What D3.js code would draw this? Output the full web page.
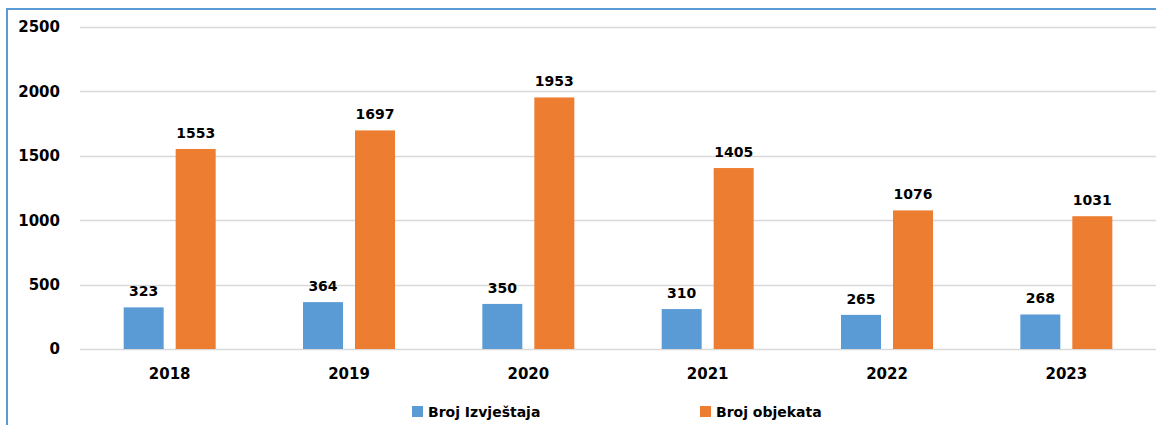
<!doctype html>
<html lang="en">
<head>
  <meta charset="utf-8">
  <script src="https://d3js.org/d3.v7.min.js"></script>
  <style>
    body { margin: 0; background: #fff; }
    text { font-family: "DejaVu Sans", Verdana, sans-serif; font-weight: bold; fill: #000; }
  </style>
</head>
<body>
  <script>
    var years = ["2018", "2019", "2020", "2021", "2022", "2023"];
    var izvjestaji = [323, 364, 350, 310, 265, 268];
    var objekti = [1553, 1697, 1953, 1405, 1076, 1031];
    var seriesNames = ["Broj Izvještaja", "Broj objekata"];
    var colors = ["#5b9bd5", "#ed7d31"];
    var yTicks = [0, 500, 1000, 1500, 2000, 2500];

    var width = 1156, height = 425;

    var svg = d3.select("body").append("svg")
        .attr("width", width)
        .attr("height", height);

    // chart frame (left + top edges visible)
    svg.append("path")
        .attr("d", "M7," + height + " V9 H" + width)
        .attr("fill", "none")
        .attr("stroke", "#5b9bd5")
        .attr("stroke-width", 2);

    var x = d3.scaleBand()
        .domain(years)
        .range([80, 1156]);

    var y = d3.scaleLinear()
        .domain([0, 2500])
        .range([349, 27]);

    // gridlines
    svg.append("g").selectAll("line")
        .data(yTicks)
      .enter().append("line")
        .attr("x1", 80)
        .attr("x2", width)
        .attr("y1", function(d) { return Math.round(y(d)) + 0.5; })
        .attr("y2", function(d) { return Math.round(y(d)) + 0.5; })
        .attr("stroke", "#d9d9d9")
        .attr("stroke-width", 1.5);

    // y tick labels
    svg.append("g").selectAll("text")
        .data(yTicks)
      .enter().append("text")
        .attr("x", 60)
        .attr("y", function(d) { return y(d); })
        .attr("dy", "0.36em")
        .attr("text-anchor", "end")
        .style("font-size", "15px")
        .text(function(d) { return d; });

    // x labels
    svg.append("g").selectAll("text")
        .data(years)
      .enter().append("text")
        .attr("x", function(d) { return x(d) + x.bandwidth() / 2; })
        .attr("y", 379)
        .attr("text-anchor", "middle")
        .style("font-size", "15px")
        .text(function(d) { return d; });

    var barW = 40, gap = 12;
    var series = [izvjestaji, objekti];

    series.forEach(function(vals, si) {
      var off = si === 0 ? -gap / 2 - barW : gap / 2;
      var g = svg.append("g");
      g.selectAll("rect")
          .data(vals)
        .enter().append("rect")
          .attr("x", function(d, i) { return x(years[i]) + x.bandwidth() / 2 + off; })
          .attr("y", function(d) { return y(d); })
          .attr("width", barW)
          .attr("height", function(d) { return y(0) - y(d); })
          .attr("fill", colors[si]);

      g.selectAll("text")
          .data(vals)
        .enter().append("text")
          .attr("x", function(d, i) { return x(years[i]) + x.bandwidth() / 2 + off + barW / 2; })
          .attr("y", function(d) { return y(d) - 11; })
          .attr("text-anchor", "middle")
          .style("font-size", "14px")
          .text(function(d) { return d; });
    });

    // legend
    var legendX = [412, 700];
    var legend = svg.append("g");
    seriesNames.forEach(function(name, i) {
      legend.append("rect")
          .attr("x", legendX[i])
          .attr("y", 406)
          .attr("width", 11)
          .attr("height", 11)
          .attr("fill", colors[i]);
      legend.append("text")
          .attr("x", legendX[i] + 16)
          .attr("y", 417)
          .style("font-size", "14px")
          .text(name);
    });
  </script>
</body>
</html>
